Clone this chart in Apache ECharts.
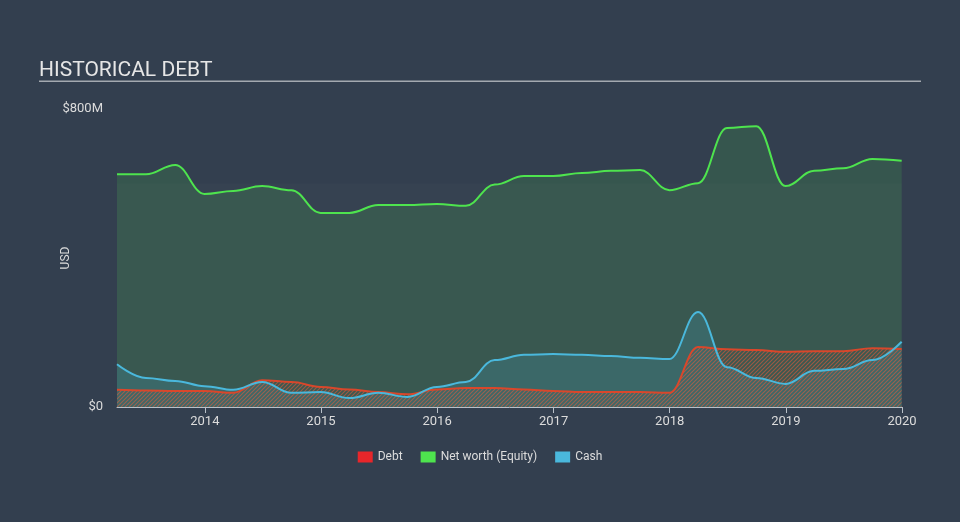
<!DOCTYPE html>
<html>
<head>
<meta charset="utf-8">
<script src="https://cdn.jsdelivr.net/npm/echarts@6/dist/echarts.min.js"></script>
<style>
html,body{margin:0;padding:0;background:#333f4f;}
#c{width:960px;height:522px;}
</style>
</head>
<body>
<div id="c"></div>
<script>
const dates = ['2013-03-31','2013-06-30','2013-09-30','2013-12-31',
  '2014-03-31','2014-06-30','2014-09-30','2014-12-31',
  '2015-03-31','2015-06-30','2015-09-30','2015-12-31',
  '2016-03-31','2016-06-30','2016-09-30','2016-12-31',
  '2017-03-31','2017-06-30','2017-09-30','2017-12-31',
  '2018-03-31','2018-06-30','2018-09-30','2018-12-31',
  '2019-03-31','2019-06-30','2019-09-30','2019-12-31'];
const equity = [625,625,650,572, 580,593,582,521, 521,542,542,545, 540,597,620,620, 628,634,636,582, 601,749,754,593, 634,641,666,661];
const cash = [115,78,70,56, 46,67,38,40, 24,38,27,54, 67,126,140,142, 140,137,132,129, 255,107,78,62, 97,102,126,175];
const debt = [46,44,43,43, 38,72,67,54, 47,40,34,47, 51,51,47,43, 40,40,40,38, 161,155,153,148, 150,150,158,156];
const yearLabels = ['2014','2015','2016','2017','2018','2019','2020'];
const yTicks = [0, 800];

function pair(vals){ return dates.map((d,i)=>[d, vals[i]]); }

const pc = document.createElement('canvas');
pc.width = 4; pc.height = 4;
const g = pc.getContext('2d');
g.strokeStyle = 'rgba(230,92,60,0.8)';
g.lineWidth = 1.2;
g.beginPath();
g.moveTo(-1,5); g.lineTo(5,-1);
g.moveTo(-1,1); g.lineTo(1,-1);
g.moveTo(3,5); g.lineTo(5,3);
g.stroke();

const YEAR = 365.25*24*3600*1000;
const chart = echarts.init(document.getElementById('c'), null, {renderer:'canvas'});
const font = 'Roboto, sans-serif';
chart.setOption({
  backgroundColor:'#333f4f',
  animation:false,
  title:{text:'HISTORICAL DEBT', left:34, top:55, textStyle:{color:'#e6e6e6', fontSize:21, fontWeight:'normal', fontFamily:font}},
  graphic:[{type:'rect', shape:{x:39,y:80.5,width:882,height:1.5}, style:{fill:'#a4a9b0'}}],
  legend:{bottom:54, left:'center', itemWidth:15, itemHeight:11, itemGap:18, icon:'rect',
    data:['Debt','Net worth (Equity)','Cash'],
    textStyle:{color:'#dcdcdc', fontSize:12, fontFamily:font}},
  grid:{left:117, right:58, top:109, bottom:115, containLabel:false},
  xAxis:{type:'time', min:'2013-03-31', max:'2020-01-01',
    minInterval: YEAR*0.9, maxInterval: YEAR*1.1,
    axisLine:{show:true, lineStyle:{color:'#b8c0c8', width:1}},
    axisTick:{show:true, length:6, lineStyle:{color:'#b8c0c8'}},
    axisLabel:{color:'#dcdcdc', fontSize:13, fontFamily:font, margin:8,
      showMinLabel:false, showMaxLabel:true,
      formatter:(v)=>{ const y = String(new Date(v).getFullYear()); return yearLabels.indexOf(y)>=0 ? y : ''; }},
    splitLine:{show:false}},
  yAxis:{type:'value', min:yTicks[0], max:yTicks[1], interval:800,
    name:'USD', nameLocation:'middle', nameGap:45, nameMoveOverlap:false,
    nameTextStyle:{color:'#dcdcdc', fontSize:12, fontFamily:font},
    axisLine:{show:false}, axisTick:{show:false}, splitLine:{show:false},
    axisLabel:{color:'#dcdcdc', fontSize:13, fontFamily:font, margin:14,
      formatter:(v)=> v===0 ? '$0' : '$'+v+'M'}},
  series:[
    {name:'Net worth (Equity)', type:'line', data:pair(equity), smooth:0.4, smoothMonotone:'x',
      showSymbol:false, z:1,
      itemStyle:{color:'#4ee44e'}, lineStyle:{color:'#4ee44e', width:2},
      areaStyle:{color:'rgba(78,228,78,0.2)'},
      markArea:{silent:true, itemStyle:{color:'rgba(255,255,255,0.015)'},
        data:[[{yAxis:0},{yAxis:600}]]}},
    {name:'Cash', type:'line', data:pair(cash), smooth:0.4, smoothMonotone:'x',
      showSymbol:false, z:2,
      itemStyle:{color:'#4ab8dc'}, lineStyle:{width:0},
      areaStyle:{color:'rgba(74,184,220,0.25)'}},
    {name:'Debt', type:'line', data:pair(debt), smooth:0.4, smoothMonotone:'x',
      showSymbol:false, z:3,
      itemStyle:{color:'#e8262a'}, lineStyle:{color:'#d9472b', width:2},
      areaStyle:{color:{image:pc, repeat:'repeat'}}},
    {name:'Cash', type:'line', data:pair(cash), smooth:0.4, smoothMonotone:'x',
      showSymbol:false, z:4,
      itemStyle:{color:'#4ab8dc'}, lineStyle:{color:'#4ab8dc', width:2}}
  ]
});
</script>
</body>
</html>
